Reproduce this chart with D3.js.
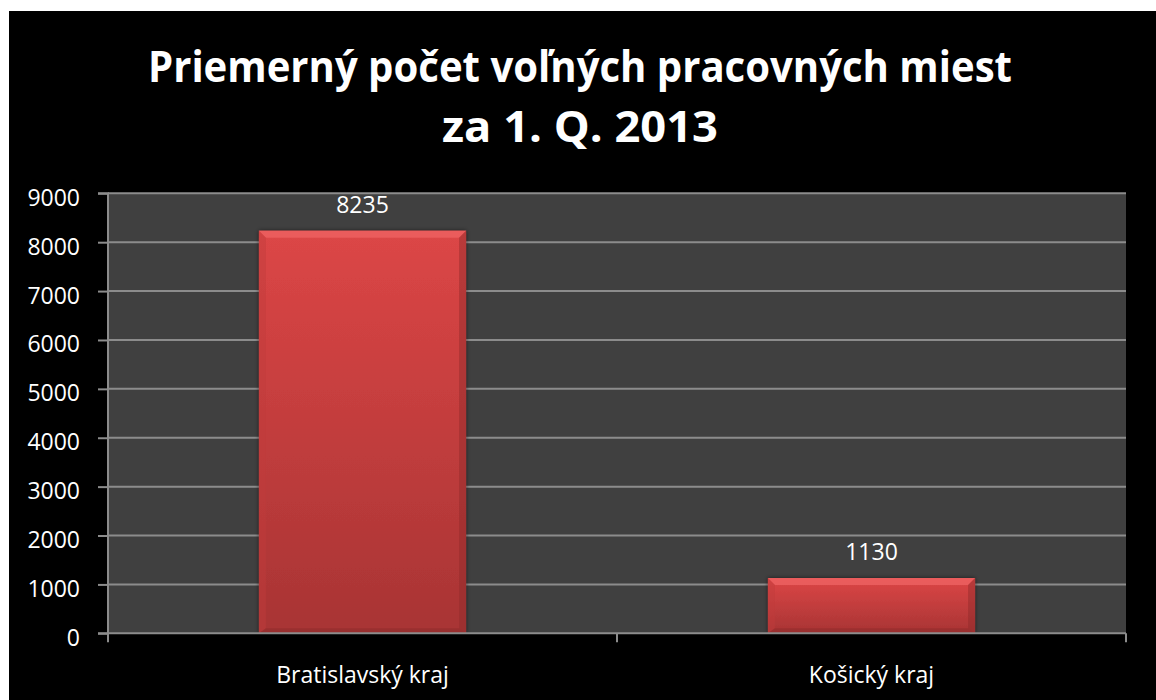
<!DOCTYPE html>
<html><head><meta charset="utf-8">
<script src="https://cdn.jsdelivr.net/npm/d3@7/dist/d3.min.js"></script>
<style>html,body{margin:0;padding:0;background:#fff;}svg{display:block;}</style>
</head><body><svg id="c" width="1156" height="700"></svg>
<script>
const categories = ["Bratislavský kraj", "Košický kraj"];
const values = [8235, 1130];
const yTicks = [0, 1000, 2000, 3000, 4000, 5000, 6000, 7000, 8000, 9000];
const titleLines = ["Priemerný počet voľných pracovných miest", "za 1. Q. 2013"];

const svg = d3.select("#c");
svg.append("rect").attr("x", 9).attr("y", 11).attr("width", 1147).attr("height", 689).attr("fill", "#000");

const L = 108, R = 1126, T = 193.3, B = 633.3;
const x = d3.scaleBand().domain(categories).range([L, R]).paddingInner(0.593).paddingOuter(0.2965);
const y = d3.scaleLinear().domain([0, 9000]).range([B, T]);

const defs = svg.append("defs");
const g1 = defs.append("linearGradient").attr("id", "barg").attr("x1", 0).attr("y1", 0).attr("x2", 0).attr("y2", 1);
g1.append("stop").attr("offset", "0%").attr("stop-color", "#dc4646");
g1.append("stop").attr("offset", "100%").attr("stop-color", "#a83434");
const f = defs.append("filter").attr("id", "sh").attr("x", "-10%").attr("y", "-10%").attr("width", "120%").attr("height", "120%");
f.append("feDropShadow").attr("dx", 0).attr("dy", 0).attr("stdDeviation", 2).attr("flood-color", "#000").attr("flood-opacity", 0.6);

svg.append("rect").attr("x", L).attr("y", T).attr("width", R - L).attr("height", B - T).attr("fill", "#404040");

svg.append("g").selectAll("line").data(yTicks.filter(d => d > 0)).join("line")
  .attr("x1", L).attr("x2", R).attr("y1", d => y(d)).attr("y2", d => y(d))
  .attr("stroke", "#8c8c8c").attr("stroke-width", 2);

const bars = svg.append("g").selectAll("g").data(categories).join("g");
bars.append("rect")
  .attr("x", d => x(d)).attr("width", x.bandwidth())
  .attr("y", (d, i) => y(values[i])).attr("height", (d, i) => B - y(values[i]))
  .attr("fill", "url(#barg)").attr("filter", "url(#sh)");
bars.append("path")
  .attr("d", (d, i) => {
    const x0 = x(d), x1 = x(d) + x.bandwidth(), yt = y(values[i]);
    return `M${x0},${yt}L${x1},${yt}L${x1 - 7},${yt + 7}L${x0 + 7},${yt + 7}Z`;
  }).attr("fill", "#ee6262").attr("opacity", 0.8);
bars.append("path")
  .attr("d", (d, i) => {
    const x0 = x(d), yt = y(values[i]);
    return `M${x0},${yt}L${x0 + 7},${yt + 7}L${x0 + 7},${B - 5}L${x0},${B}Z`;
  }).attr("fill", "#c03c3c").attr("opacity", 0.45);
bars.append("path")
  .attr("d", (d, i) => {
    const x1 = x(d) + x.bandwidth(), yt = y(values[i]);
    return `M${x1},${yt}L${x1 - 7},${yt + 7}L${x1 - 7},${B - 5}L${x1},${B}Z`;
  }).attr("fill", "#8e2a2a").attr("opacity", 0.45);
bars.append("path")
  .attr("d", (d, i) => {
    const x0 = x(d), x1 = x(d) + x.bandwidth();
    return `M${x0},${B}L${x0 + 7},${B - 5}L${x1 - 7},${B - 5}L${x1},${B}Z`;
  }).attr("fill", "#7e2626").attr("opacity", 0.35);

svg.append("g").selectAll("text").data(categories).join("text")
  .attr("x", d => x(d) + x.bandwidth() / 2).attr("y", (d, i) => y(values[i]) - 18)
  .attr("text-anchor", "middle").attr("fill", "#fff")
  .attr("font-family", "Open Sans").attr("font-size", 23)
  .text((d, i) => values[i]);

const ya = svg.append("g").attr("transform", `translate(${L},0)`)
  .call(d3.axisLeft(y).tickValues(yTicks).tickSize(10).tickPadding(18).tickFormat(d3.format("d")));
ya.select(".domain").attr("stroke", "#8c8c8c").attr("stroke-width", 2).attr("d", `M-10,${T}H0V${B}`);
ya.selectAll(".tick line").attr("stroke", "#8c8c8c").attr("stroke-width", 2);
ya.selectAll(".tick text").attr("fill", "#fff").attr("font-family", "Open Sans").attr("font-size", 23).attr("dy", "0.52em");

svg.append("line").attr("x1", L - 10).attr("x2", R).attr("y1", B).attr("y2", B).attr("stroke", "#8c8c8c").attr("stroke-width", 2);
const boundaries = [L, (L + R) / 2, R];
svg.append("g").selectAll("line").data(boundaries).join("line")
  .attr("x1", d => d).attr("x2", d => d).attr("y1", B).attr("y2", B + 9)
  .attr("stroke", "#8c8c8c").attr("stroke-width", 2);
svg.append("g").selectAll("text").data(categories).join("text")
  .attr("x", d => x(d) + x.bandwidth() / 2).attr("y", 683)
  .attr("text-anchor", "middle").attr("fill", "#fff")
  .attr("font-family", "Open Sans").attr("font-size", 23)
  .text(d => d);

const tl = [[81.7, 864], [141.7, 276]];
svg.append("g").selectAll("text").data(titleLines).join("text")
  .attr("x", 580).attr("y", (d, i) => tl[i][0])
  .attr("text-anchor", "middle").attr("fill", "#fff")
  .attr("font-family", "Open Sans").attr("font-weight", "bold").attr("font-size", 43)
  .attr("textLength", (d, i) => tl[i][1]).attr("lengthAdjust", "spacingAndGlyphs")
  .text(d => d);
</script></body></html>
